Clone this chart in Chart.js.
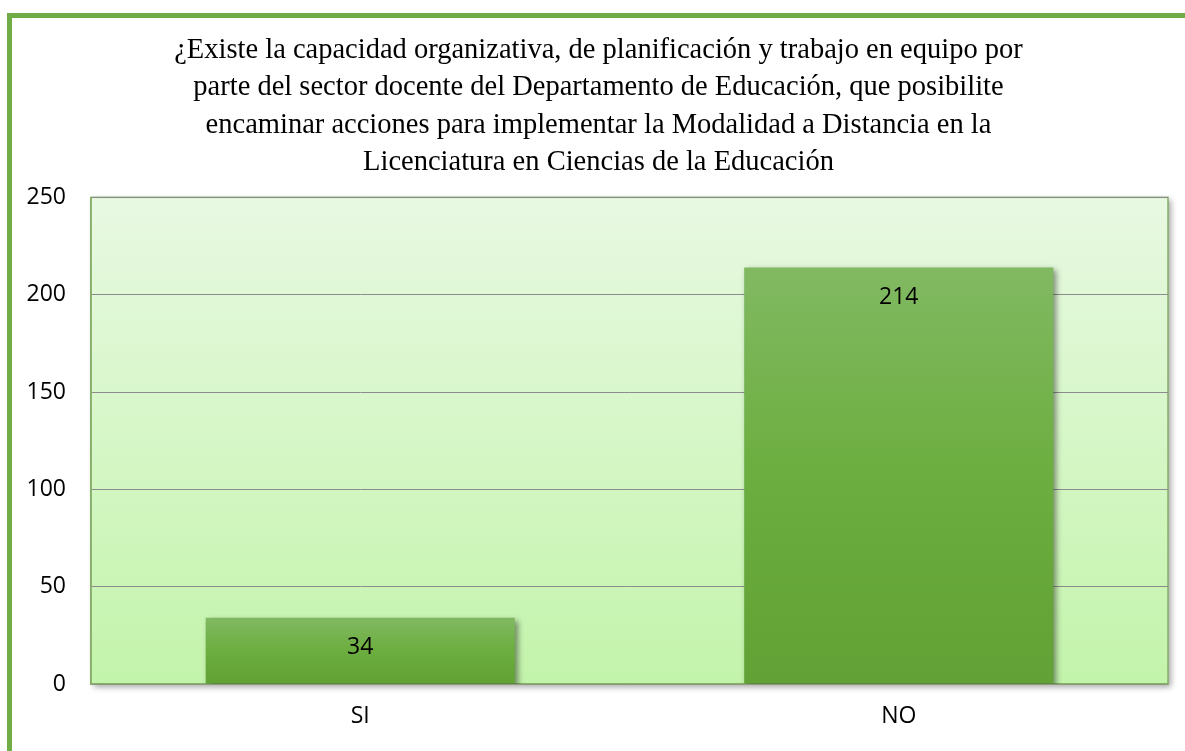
<!DOCTYPE html>
<html>
<head>
<meta charset="utf-8">
<script src="https://cdn.jsdelivr.net/npm/chart.js@4/dist/chart.umd.min.js"></script>
<style>
  html, body { margin: 0; padding: 0; background: #fff; overflow: hidden; }
  #frame {
    position: absolute; left: 7px; top: 13px; width: 1200px; height: 760px;
    border-left: 5px solid #70ad47; border-top: 5px solid #70ad47;
  }
  #wrap { position: absolute; left: 12px; top: 18px; width: 1173px; height: 733px; }
</style>
</head>
<body>
<div id="frame"></div>
<div id="wrap"><canvas id="chart"></canvas></div>
<script>
// data
const categories = ['SI', 'NO'];
const respuestas = [34, 214];
const yTicks = [0, 50, 100, 150, 200, 250];
const titleLines = [
  '¿Existe la capacidad organizativa, de planificación y trabajo en equipo por',
  'parte del sector docente del Departamento de Educación, que posibilite',
  'encaminar acciones para implementar la Modalidad a Distancia en la',
  'Licenciatura en Ciencias de la Educación'
];

const labelFont = { family: "'Open Sans', 'Noto Sans', sans-serif", size: 23 };
const frameColor = '#86ad68';

// plot area background with gradient + shadow
const plotBackground = {
  id: 'plotBackground',
  beforeDraw(chart) {
    const { ctx, chartArea: a } = chart;
    ctx.save();
    ctx.shadowColor = 'rgba(0,0,0,0.35)';
    ctx.shadowBlur = 6;
    ctx.shadowOffsetX = 3;
    ctx.shadowOffsetY = 3;
    const g = ctx.createLinearGradient(0, a.top, 0, a.bottom);
    g.addColorStop(0, '#e8f9e2');
    g.addColorStop(1, '#c3f4ab');
    ctx.fillStyle = g;
    ctx.fillRect(a.left, a.top, a.width, a.height);
    ctx.restore();
    ctx.save();
    ctx.strokeStyle = frameColor;
    ctx.lineWidth = 1.5;
    ctx.strokeRect(a.left, a.top, a.width, a.height);
    ctx.restore();
  }
};

// bar shadows and value labels
const barExtras = {
  id: 'barExtras',
  beforeDatasetsDraw(chart) {
    const ctx = chart.ctx;
    ctx.save();
    ctx.shadowColor = 'rgba(0,0,0,0.45)';
    ctx.shadowBlur = 6;
    ctx.shadowOffsetX = 3;
    ctx.shadowOffsetY = 3;
  },
  afterDatasetsDraw(chart) {
    const ctx = chart.ctx;
    ctx.restore();
    ctx.save();
    ctx.font = labelFont.size + 'px ' + labelFont.family;
    ctx.fillStyle = '#000';
    ctx.textAlign = 'center';
    ctx.textBaseline = 'middle';
    chart.getDatasetMeta(0).data.forEach((bar, i) => {
      ctx.fillText(String(respuestas[i]), bar.x, bar.y + 30);
    });
    ctx.restore();
  }
};

const ctx = document.getElementById('chart').getContext('2d');
new Chart(ctx, {
  type: 'bar',
  data: {
    labels: categories,
    datasets: [{
      data: respuestas,
      backgroundColor(c) {
        const chart = c.chart;
        if (!chart.chartArea) return '#70ad47';
        const y = chart.scales.y;
        const top = y.getPixelForValue(c.raw);
        const bottom = y.getPixelForValue(0);
        const g = chart.ctx.createLinearGradient(0, top, 0, bottom);
        g.addColorStop(0, '#81b962');
        g.addColorStop(0.5, '#6cae3f');
        g.addColorStop(1, '#62a135');
        return g;
      },
      borderWidth: 0,
      barPercentage: 0.574,
      categoryPercentage: 1
    }]
  },
  options: {
    responsive: true,
    maintainAspectRatio: false,
    animation: false,
    layout: { padding: 0 },
    plugins: {
      legend: { display: false },
      tooltip: { enabled: false },
      title: {
        display: true,
        text: titleLines,
        color: '#000',
        font: { family: "'Liberation Serif', 'Times New Roman', serif", size: 28.5, weight: 'normal', lineHeight: 1.31 },
        padding: { top: 14, bottom: 16 }
      }
    },
    scales: {
      x: {
        grid: { display: false, drawTicks: false },
        border: { display: true, color: frameColor, width: 1.5 },
        ticks: { color: '#000', font: labelFont, padding: 19 },
        afterFit(s) { s.height = 67; }
      },
      y: {
        min: 0,
        max: 250,
        afterBuildTicks(s) { s.ticks = yTicks.map(v => ({ value: v })); },
        grid: { color: '#8c8c8c', lineWidth: 1, drawTicks: false },
        border: { display: true, color: frameColor, width: 1.5 },
        ticks: { color: '#000', font: labelFont, padding: 25 },
        afterFit(s) { s.width = 79; }
      },
      y2: {
        position: 'right',
        grid: { display: false, drawTicks: false },
        border: { display: false },
        ticks: { display: false },
        afterFit(s) { s.width = 17; }
      }
    }
  },
  plugins: [plotBackground, barExtras]
});
</script>
</body>
</html>
